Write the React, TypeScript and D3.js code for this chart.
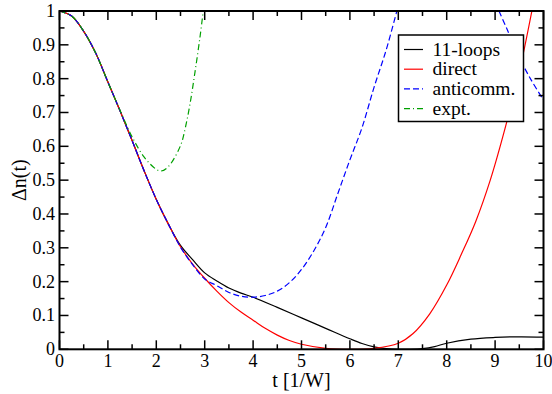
import React from "react";
import * as d3 from "d3";

const W = 552;
const H = 394;

// t values and Δn(t) for each series
const loopsT = [0, 0.25, 0.5, 0.75, 1, 1.25, 1.5, 1.75, 2, 2.25, 2.5, 2.75, 3, 3.25, 3.5, 3.75, 4, 4.5, 5, 5.5, 6, 6.25, 6.5, 6.75, 7, 7.25, 7.5, 7.75, 8, 8.5, 9, 9.5, 10];
const loopsV = [1, 0.985, 0.94, 0.875, 0.79, 0.705, 0.617, 0.527, 0.443, 0.37, 0.307, 0.265, 0.226, 0.202, 0.181, 0.166, 0.154, 0.124, 0.093, 0.062, 0.031, 0.017, 0.007, 0.002, 0, 0, 0.002, 0.008, 0.018, 0.03, 0.035, 0.037, 0.036];

const directT = [0, 0.25, 0.5, 0.75, 1, 1.25, 1.5, 1.75, 2, 2.25, 2.5, 2.75, 3, 3.25, 3.5, 3.75, 4, 4.25, 4.5, 4.75, 5, 5.5, 6, 6.5, 7, 7.3, 7.65, 8, 8.3, 8.6, 8.9, 9.2, 9.5, 9.76];
const directV = [1, 0.985, 0.94, 0.875, 0.79, 0.705, 0.617, 0.527, 0.443, 0.37, 0.303, 0.252, 0.21, 0.172, 0.138, 0.11, 0.086, 0.062, 0.042, 0.026, 0.015, 0.003, 0, 0.003, 0.018, 0.046, 0.105, 0.19, 0.28, 0.378, 0.5, 0.65, 0.82, 1.0];

const anticommT = [0, 0.25, 0.5, 0.75, 1, 1.25, 1.5, 1.75, 2, 2.25, 2.5, 2.75, 3, 3.25, 3.5, 3.75, 4, 4.25, 4.5, 4.75, 5, 5.25, 5.5, 5.75, 6, 6.25, 6.5, 6.75, 6.97, 8.0, 9.08, 9.25, 9.5, 9.75, 10];
const anticommV: (number | null)[] = [1, 0.985, 0.94, 0.875, 0.79, 0.705, 0.617, 0.527, 0.443, 0.37, 0.302, 0.25, 0.208, 0.188, 0.168, 0.157, 0.154, 0.159, 0.172, 0.197, 0.236, 0.29, 0.36, 0.46, 0.56, 0.655, 0.775, 0.885, 1.0, null, 1.0, 0.945, 0.862, 0.795, 0.737];

const exptT = [0, 0.25, 0.5, 0.75, 1, 1.25, 1.5, 1.75, 2, 2.1, 2.25, 2.5, 2.6, 2.7, 2.8, 2.9, 2.97];
const exptV = [1, 0.985, 0.94, 0.875, 0.79, 0.707, 0.628, 0.568, 0.532, 0.527, 0.54, 0.602, 0.655, 0.728, 0.82, 0.92, 1.0];

const xTicks = [0, 1, 2, 3, 4, 5, 6, 7, 8, 9, 10];
const yTicks = [0, 0.1, 0.2, 0.3, 0.4, 0.5, 0.6, 0.7, 0.8, 0.9, 1];
const xMinor = [0.5, 1.5, 2.5, 3.5, 4.5, 5.5, 6.5, 7.5, 8.5, 9.5];
const yMinor = [0.05, 0.15, 0.25, 0.35, 0.45, 0.55, 0.65, 0.75, 0.85, 0.95];

const legendLabels = ["11-loops", "direct", "anticomm.", "expt."];
const colors = ["#000000", "#ff0000", "#0000ff", "#00a000"];
const dashes = ["", "", "6,3", "6,3,1,3"];

const left = 59.5, right = 543.5, top = 11, bottom = 349.3;
const FONT = "Liberation Serif";

export default function App() {
  const x = d3.scaleLinear().domain([0, 10]).range([left, right]);
  const y = d3.scaleLinear().domain([0, 1]).range([bottom, top]);

  type P = { t: number; v: number | null };
  const mk = (ts: number[], vs: (number | null)[]): P[] => ts.map((t, i) => ({ t, v: vs[i] }));
  const series = [
    mk(loopsT, loopsV),
    mk(directT, directV),
    mk(anticommT, anticommV),
    mk(exptT, exptV),
  ];
  const line = d3
    .line<P>()
    .defined((d) => d.v !== null)
    .x((d) => x(d.t))
    .y((d) => y(d.v as number))
    .curve(d3.curveCatmullRom.alpha(0.5));

  const major = 9, minor = 5;

  const lgX = 398.5, lgY = 35, lgW = 125, lgH = 86.5;

  return (
    <svg width={W} height={H} fontFamily={FONT} style={{ position: "absolute", left: 0, top: 0, background: "#fff" }}>
      <defs>
        <clipPath id="plotclip">
          <rect x={left} y={top} width={right - left} height={bottom - top} />
        </clipPath>
      </defs>
      <rect x={0} y={0} width={W} height={H} fill="#fff" />
      <g clipPath="url(#plotclip)">
        {series.map((s, i) => (
          <path
            key={i}
            d={line(s) || ""}
            fill="none"
            stroke={colors[i]}
            strokeWidth={1.2}
            strokeDasharray={dashes[i] || undefined}
          />
        ))}
      </g>
      {/* ticks */}
      <g stroke="#000" strokeWidth={1.5}>
        {xTicks.map((t) => (
          <g key={"xt" + t}>
            <line x1={x(t)} x2={x(t)} y1={bottom} y2={bottom - major} />
            <line x1={x(t)} x2={x(t)} y1={top} y2={top + major} />
          </g>
        ))}
        {xMinor.map((t) => (
          <g key={"xm" + t}>
            <line x1={x(t)} x2={x(t)} y1={bottom} y2={bottom - minor} />
            <line x1={x(t)} x2={x(t)} y1={top} y2={top + minor} />
          </g>
        ))}
        {yTicks.map((v) => (
          <g key={"yt" + v}>
            <line x1={left} x2={left + major} y1={y(v)} y2={y(v)} />
            <line x1={right} x2={right - major} y1={y(v)} y2={y(v)} />
          </g>
        ))}
        {yMinor.map((v) => (
          <g key={"ym" + v}>
            <line x1={left} x2={left + minor} y1={y(v)} y2={y(v)} />
            <line x1={right} x2={right - minor} y1={y(v)} y2={y(v)} />
          </g>
        ))}
      </g>
      <rect x={left} y={top} width={right - left} height={bottom - top} fill="none" stroke="#000" strokeWidth={2} />
      {/* tick labels */}
      {xTicks.map((t) => (
        <text key={"xl" + t} x={x(t)} y={bottom + 17.5} textAnchor="middle" fontFamily={FONT} fontSize={18} fill="#000">
          {d3.format("d")(t)}
        </text>
      ))}
      {yTicks.map((v) => (
        <text key={"yl" + v} x={left - 4.5} y={y(v) + 6} textAnchor="end" fontFamily={FONT} fontSize={18} fill="#000">
          {v === 0 ? "0" : v === 1 ? "1" : d3.format(".1f")(v)}
        </text>
      ))}
      <text x={x(5)} y={387} textAnchor="middle" fontFamily={FONT} fontSize={20}>
        t [1/W]
      </text>
      <text
        transform={`translate(25.5, ${y(0.5)}) rotate(-90)`}
        textAnchor="middle"
        fontFamily={FONT}
        fontSize={20}
      >
        Δn(t)
      </text>
      {/* legend */}
      <rect x={lgX} y={lgY} width={lgW} height={lgH} fill="#fff" stroke="#000" strokeWidth={1.5} />
      {legendLabels.map((lab, i) => {
        const cy = 49.5 + 19.7 * i;
        return (
          <g key={lab}>
            <line x1={404} x2={423} y1={cy} y2={cy} stroke={colors[i]} strokeWidth={1.2} strokeDasharray={dashes[i] || undefined} />
            <text x={432.5} y={cy + 6} fontFamily={FONT} fontSize={19.5}>
              {lab}
            </text>
          </g>
        );
      })}
    </svg>
  );
}
